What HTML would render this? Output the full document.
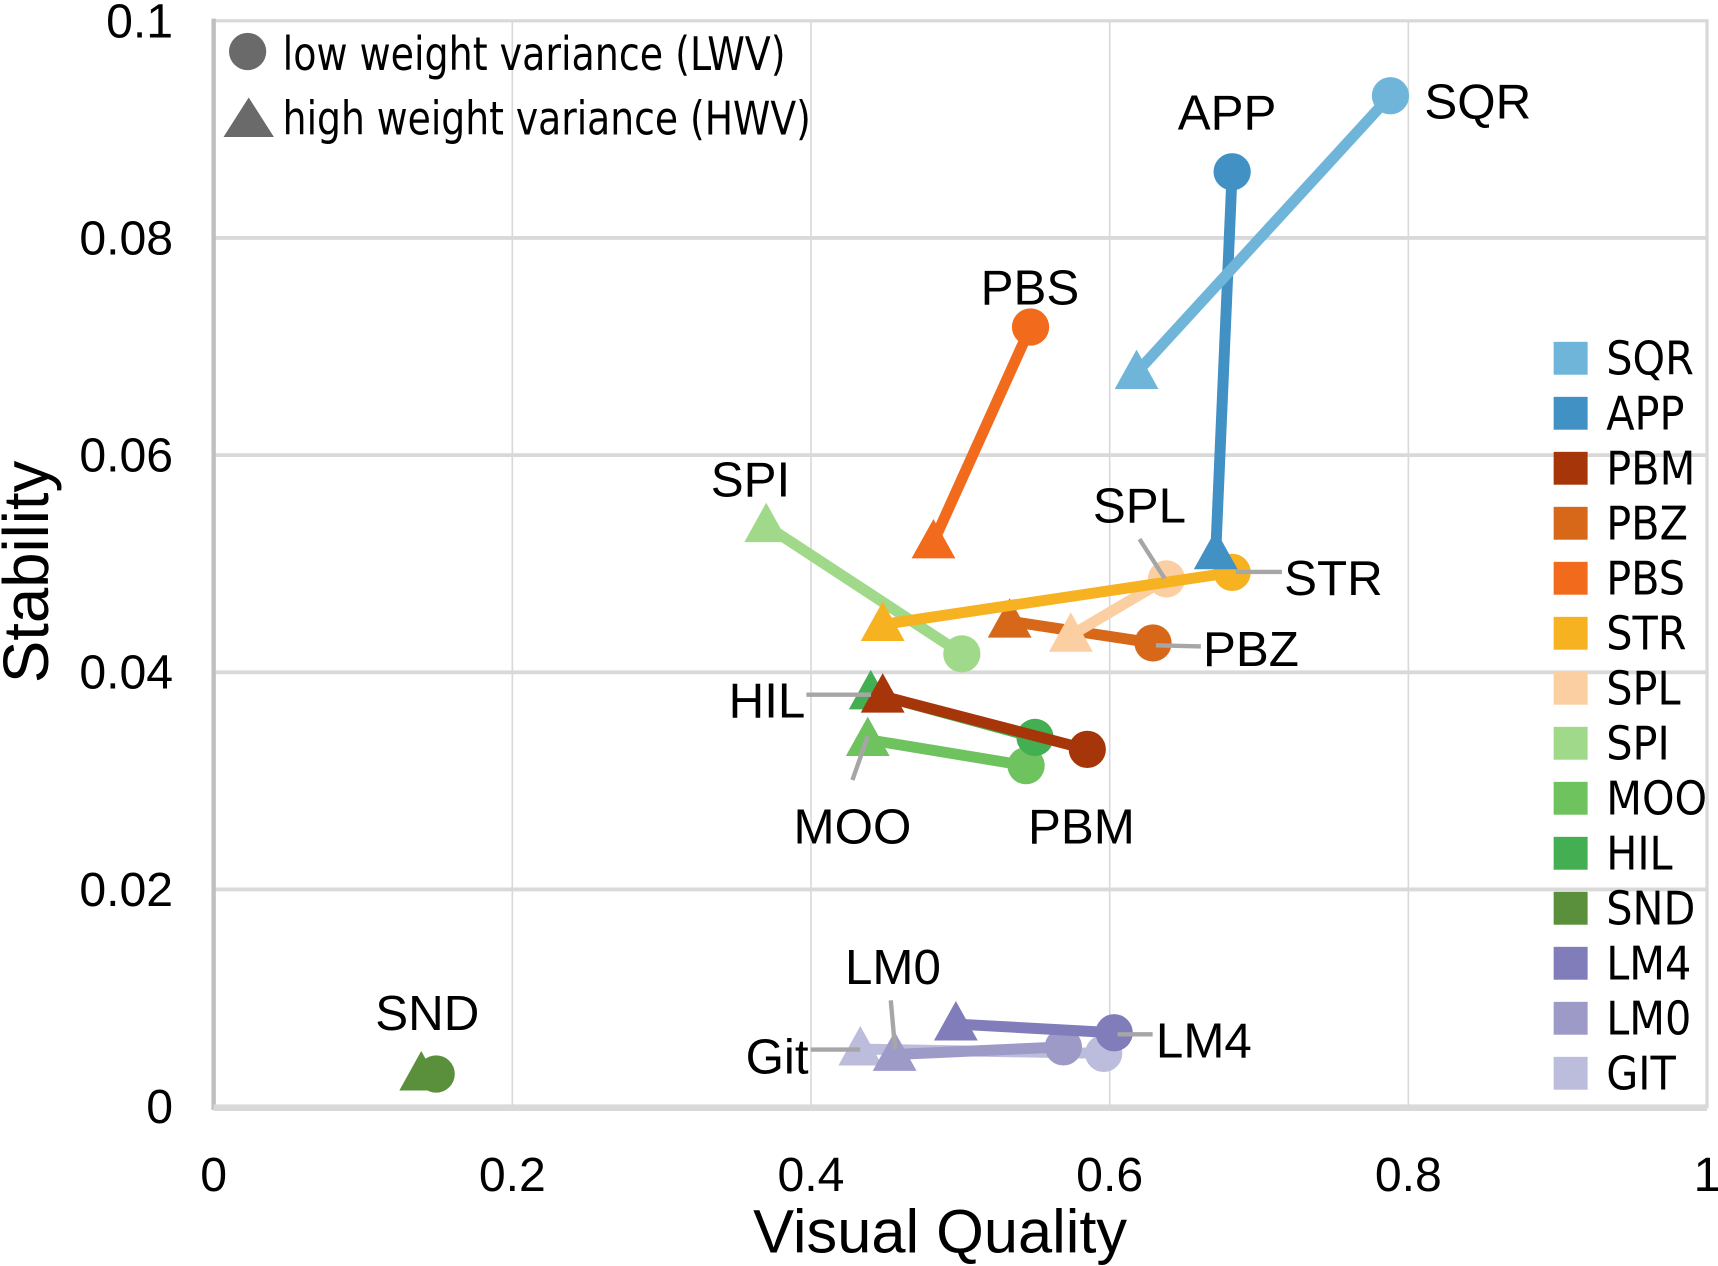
<!DOCTYPE html>
<html><head><meta charset="utf-8"><style>
html,body{margin:0;padding:0;background:#fff;}
svg{display:block;}
text{font-family:"Liberation Sans",sans-serif;fill:#000;}
.cond{font-family:"Liberation Sans Narrow","DejaVu Sans Condensed","Liberation Sans",sans-serif;}
</style></head><body>
<svg id="chart" width="1718" height="1266" viewBox="0 0 1568 1155.5" preserveAspectRatio="none" xmlns="http://www.w3.org/2000/svg">
<g id="grid"></g>
<g id="series"></g>
<g id="annot"></g>
<g id="legend"></g>
<g id="axes"></g>
</svg>
<script>
const seriesNames = ["SQR","APP","PBM","PBZ","PBS","STR","SPL","SPI","MOO","HIL","SND","LM4","LM0","GIT"];
const seriesColors = ["#6fb5da","#4291c5","#a6360a","#d7681a","#f26b1d","#f6b221","#fbcfa1","#a1d98b","#6fc35f","#43ae52","#5a8f3c","#817cba","#9d9ac8","#bcbcdc"];
const lwvQuality = [0.788,0.682,0.585,0.629,0.547,0.682,0.638,0.501,0.544,0.550,0.149,0.603,0.569,0.596];
const lwvStability = [0.0931,0.0861,0.0329,0.0427,0.0718,0.0492,0.0486,0.0417,0.0314,0.0340,0.0030,0.0068,0.0055,0.0049];
const hwvQuality = [0.618,0.671,0.448,0.533,0.482,0.448,0.574,0.370,0.438,0.440,0.139,0.497,0.456,0.433];
const hwvStability = [0.0676,0.0510,0.0378,0.0447,0.0520,0.0444,0.0434,0.0535,0.0338,0.0381,0.0030,0.0076,0.0048,0.0053];
const drawOrder = [10,13,12,11,8,9,2,7,3,6,5,4,1,0];
const xTicks = [0,0.2,0.4,0.6,0.8,1];
const xTickLabels = ["0","0.2","0.4","0.6","0.8","1"];
const yTicks = [0,0.02,0.04,0.06,0.08,0.1];
const yTickLabels = ["0","0.02","0.04","0.06","0.08","0.1"];

const X0=195,X1=1558,Y0=1010,Y1=19;
const xs=v=>X0+(X1-X0)*v;
const ys=v=>Y0-(Y0-Y1)*v/0.1;
const NS="http://www.w3.org/2000/svg";
function mk(tag,attrs,parent,txt){const e=document.createElementNS(NS,tag);for(const k in attrs)e.setAttribute(k,attrs[k]);if(txt!==undefined)e.textContent=txt;parent.appendChild(e);return e;}
const grid=document.getElementById('grid'),axes=document.getElementById('axes'),ser=document.getElementById('series'),ann=document.getElementById('annot'),leg=document.getElementById('legend');

let e=mk('rect',{x:X0,y:Y1,width:X1-X0,height:Y0-Y1,fill:'#fff',stroke:'#d9d9d9','stroke-width':3},grid);


xTicks.forEach((t,i)=>{
  if(i>0&&i<xTicks.length-1){const g=mk('line',{x1:xs(t),x2:xs(t),y1:Y1,y2:Y0,stroke:'#d9d9d9','stroke-width':1.5},grid);
  
  }
  const l=mk('text',{x:xs(t),y:1087,'text-anchor':'middle','font-size':44},axes,xTickLabels[i]);
  
  
});
yTicks.forEach((t,i)=>{
  if(i>0&&i<yTicks.length-1){const g=mk('line',{x1:X0,x2:X1,y1:ys(t),y2:ys(t),stroke:'#d9d9d9','stroke-width':3.5},grid);
  
  }
  const l=mk('text',{x:158,y:ys(t)+15,'text-anchor':'end','font-size':44},axes,yTickLabels[i]);
  
  
});
e=mk('line',{x1:X0,x2:X0,y1:Y1-2,y2:Y0+3,stroke:'#bfbfbf','stroke-width':4},axes);


e=mk('line',{x1:X0,x2:X1,y1:Y0+1,y2:Y0+1,stroke:'#d9d9d9','stroke-width':6},axes);


e=mk('text',{x:858,y:1143,'text-anchor':'middle','font-size':56},axes,'Visual Quality');


e=mk('text',{x:0,y:0,'text-anchor':'middle','font-size':58,transform:'translate(44,522) rotate(-90)'},axes,'Stability');



function tri(x,y,s){return `${x},${y-21*s} ${x-20*s},${y+15*s} ${x+20*s},${y+15*s}`;}
drawOrder.forEach(i=>{
  const g=mk('g',{},ser);
  
  
  const c=seriesColors[i];
  const ln=mk('line',{x1:xs(lwvQuality[i]),y1:ys(lwvStability[i]),x2:xs(hwvQuality[i]),y2:ys(hwvStability[i]),stroke:c,'stroke-width':10},g);
  
  
  const t=mk('polygon',{points:tri(xs(hwvQuality[i]),ys(hwvStability[i]),1),fill:c},g);
  
  
  const p=mk('circle',{cx:xs(lwvQuality[i]),cy:ys(lwvStability[i]),r:17,fill:c},g);
  
  
});

const labels=[
 ["SQR",1300,108,"start"],["APP",1120,118,"middle"],["PBS",940,278,"middle"],["SPI",685,453,"middle"],
 ["SPL",1040,477,"middle"],["STR",1172,543,"start"],["PBZ",1098,608,"start"],["HIL",735,655,"end"],
 ["MOO",778,770,"middle"],["PBM",987,770,"middle"],["SND",390,940,"middle"],["LM0",815,898,"middle"],
 ["LM4",1055,965,"start"],["Git",738,980,"end"]];
const leaders=[[1040,492,1063,528],[1128,522,1170,522],[1055,589,1096,590],[736,634,795,634],[778,712,792,672],[813,913,817,958],[1020,944,1052,944],[740,958,785,958]];
leaders.forEach(l=>{const q=mk('line',{x1:l[0],y1:l[1],x2:l[2],y2:l[3],stroke:'#a6a6a6','stroke-width':4},ann);

});
labels.forEach(l=>{const q=mk('text',{x:l[1],y:l[2],'text-anchor':l[3],'font-size':45},ann,l[0]);

});

e=mk('circle',{cx:226,cy:47,r:17,fill:'#6a6a6a'},leg);


e=mk('text',{x:258,y:64,'font-size':42,class:'cond',textLength:459,lengthAdjust:'spacingAndGlyphs'},leg,'low weight variance (LWV)');


e=mk('polygon',{points:'227,89 204,125 250,125',fill:'#6a6a6a'},leg);


e=mk('text',{x:258,y:123,'font-size':42,class:'cond',textLength:482,lengthAdjust:'spacingAndGlyphs'},leg,'high weight variance (HWV)');



seriesNames.forEach((n,i)=>{
  const y=327+i*50.2;
  const g=mk('g',{},leg);
  
  
  mk('rect',{x:1418,y:y-15,width:31,height:30,fill:seriesColors[i]},g);
  mk('text',{x:1466,y:y+15,'font-size':42,class:'cond'},g,n);
});
</script>
</body></html>
